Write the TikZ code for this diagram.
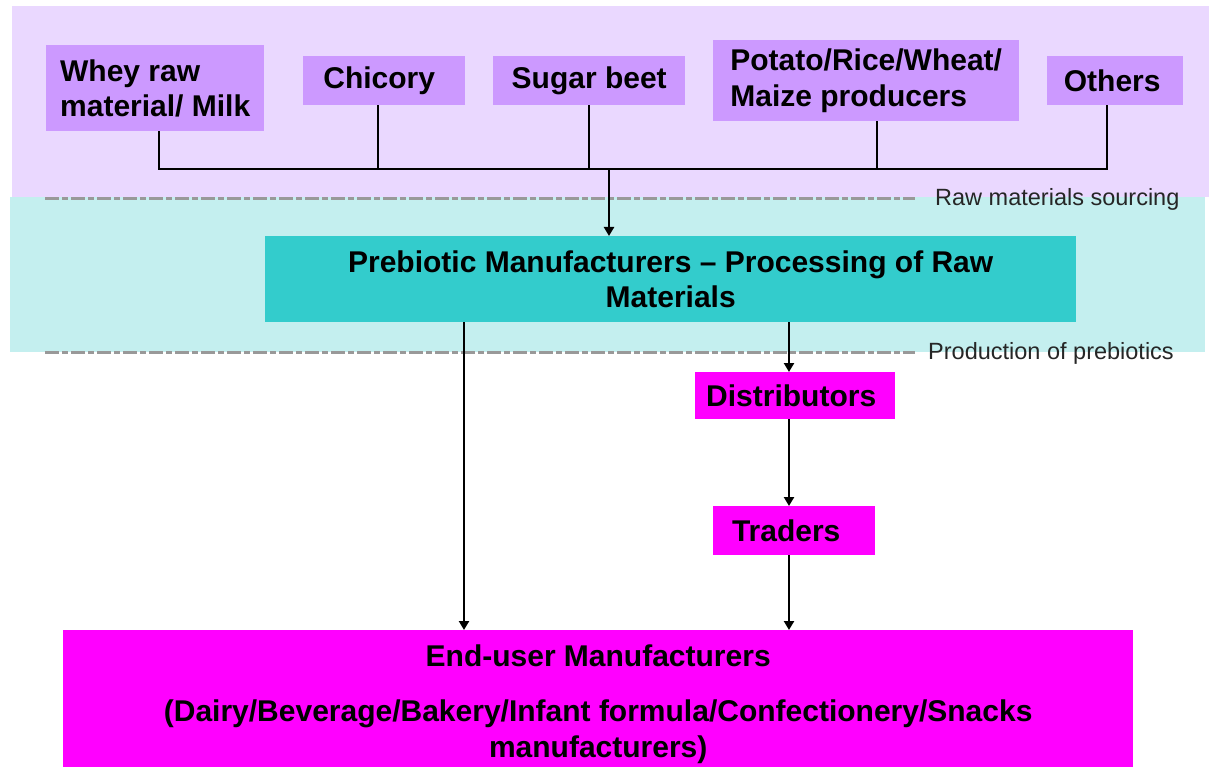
\documentclass[tikz,border=0pt]{standalone}
\usepackage{fontspec}
\setmainfont{Liberation Sans}
\usetikzlibrary{arrows.meta}
\definecolor{lavbox}{HTML}{CC99FF}
\definecolor{lavbg}{HTML}{EAD8FF}
\definecolor{tealbox}{HTML}{33CCCC}
\definecolor{tealbg}{HTML}{C4EFEF}
\definecolor{mag}{HTML}{FF00FF}
\definecolor{dashgrey}{HTML}{999999}
\tikzset{
  x=1pt, y=-1pt,
  boxbase/.style={anchor=north west, inner sep=0pt, font=\fontsize{30}{35.5}\selectfont\bfseries},
  rawbox/.style={boxbase, fill=lavbox},
  procbox/.style={boxbase, fill=tealbox, align=center},
  magbox/.style={boxbase, fill=mag, align=center},
  bus/.style={line width=1.6pt, black},
  arr/.style={line width=2.6pt, black, -{Triangle[length=9pt,width=10pt]}},
  sepline/.style={line width=3pt, dashgrey, dash pattern=on 14pt off 3pt on 6pt off 3pt},
  zonelabel/.style={anchor=west, inner sep=0pt, font=\fontsize{23.5}{27}\selectfont, text=black!85}
}
\begin{document}
\begin{tikzpicture}
\useasboundingbox (0,0) rectangle (1209,767);
\fill[white] (0,0) rectangle (1209,767);
% zones
\fill[lavbg] (12,6) rectangle (1209,197);
\fill[tealbg] (10,197) rectangle (1205,352);
\draw[sepline] (45,199) -- (915,199);
\draw[sepline] (45,352) -- (915,352);
\node[zonelabel] (lblraw) at (935,199) {Raw materials sourcing};
\node[zonelabel] (lblprod) at (928,353) {Production of prebiotics};
% raw material boxes
\node[rawbox, minimum width=218pt, minimum height=86pt, align=left] (whey) at (46,45) {Whey raw\\material/ Milk};
\node[rawbox, minimum width=162pt, minimum height=49pt] (chicory) at (303,56) {Chicory\hspace*{10pt}};
\node[rawbox, minimum width=192pt, minimum height=49pt] (beet) at (493,56) {Sugar beet};
\node[rawbox, minimum width=306pt, minimum height=81pt, align=left] (potato) at (713,40) {Potato/Rice/Wheat/\\Maize producers};
\node[rawbox, minimum width=136pt, minimum height=49pt] (others) at (1047,56) {Others\hspace*{6pt}};
% processing
\node[procbox, minimum width=811pt, minimum height=86pt] (proc) at (265,236) {Prebiotic Manufacturers -- Processing of Raw\\Materials};
% distribution
\node[magbox, minimum width=200pt, minimum height=47pt] (dist) at (695,372) {Distributors\hspace*{8pt}};
\node[magbox, minimum width=162pt, minimum height=49pt] (trad) at (713,506) {Traders\hspace*{16pt}};
\node[magbox, minimum width=1070pt, minimum height=137pt] (enduser) at (63,630) {\rule{0pt}{32pt}End-user Manufacturers\\[20pt](Dairy/Beverage/Bakery/Infant formula/Confectionery/Snacks\\manufacturers)};
% bus
\coordinate (busc) at (609,169);
\coordinate (colL) at (464,0);
\coordinate (colR) at (789,0);
\draw[bus] ([xshift=4pt]whey.south) -- ([xshift=4pt]whey.south |- busc) -- ([xshift=-8pt]others.south |- busc) -- ([xshift=-8pt]others.south);
\draw[bus] ([xshift=-6pt]chicory.south) -- ([xshift=-6pt]chicory.south |- busc);
\draw[bus] (beet.south) -- (beet.south |- busc);
\draw[bus] ([xshift=11pt]potato.south) -- ([xshift=11pt]potato.south |- busc);
\draw[arr] (busc) -- (proc.north -| busc);
% flows
\draw[arr] (proc.south -| colL) -- (enduser.north -| colL);
\draw[arr] (proc.south -| colR) -- (dist.north -| colR);
\draw[arr] (dist.south -| colR) -- (trad.north -| colR);
\draw[arr] (trad.south -| colR) -- (enduser.north -| colR);
\end{tikzpicture}
\end{document}
